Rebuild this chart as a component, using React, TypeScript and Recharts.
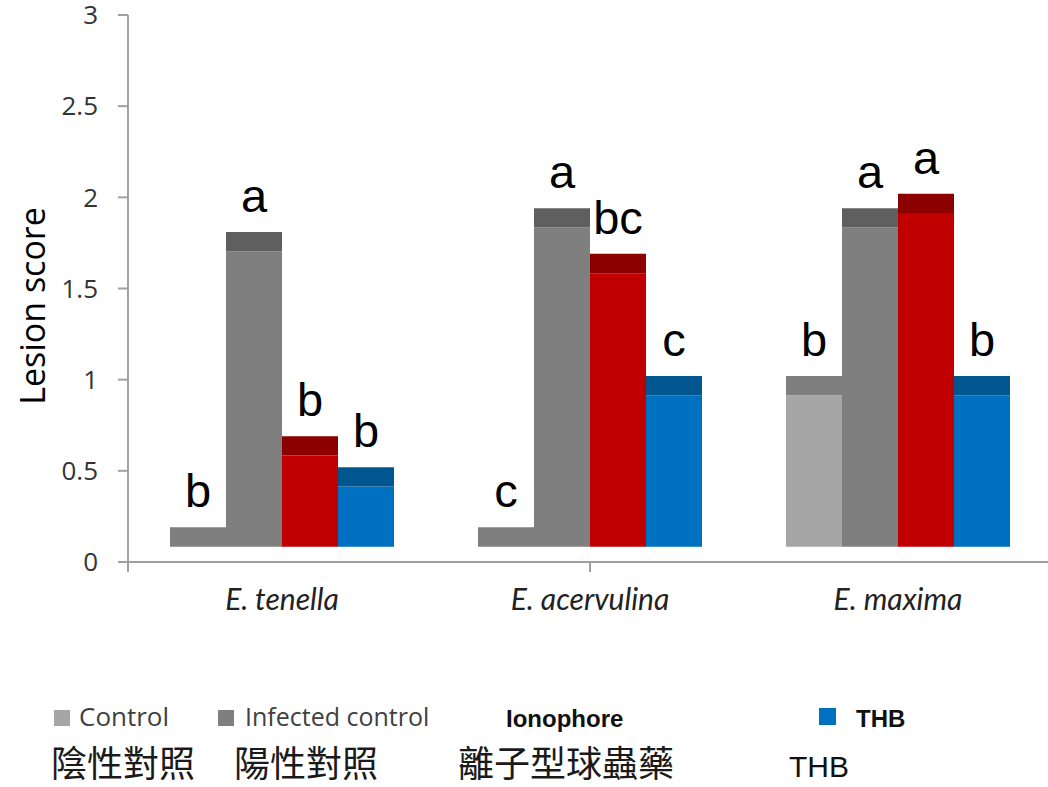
import React from 'react';
import { BarChart, Bar, XAxis, YAxis, LabelList } from 'recharts';

const CATEGORIES = ['E. tenella', 'E. acervulina', 'E. maxima'];
const CONTROL = [0, 0, 0.83];
const INFECTED = [1.62, 1.75, 1.75];
const IONOPHORE = [0.5, 1.5, 1.83];
const THB = [0.33, 0.83, 0.83];

// significance letters above each column
const CONTROL_SIG = ['b', 'c', 'b'];
const INFECTED_SIG = ['a', 'a', 'a'];
const IONOPHORE_SIG = ['b', 'bc', 'a'];
const THB_SIG = ['b', 'c', 'b'];

const Y_TICKS = [0, 0.5, 1, 1.5, 2, 2.5, 3];
const GROUP_TICKS = [0, 1, 2, 3];

// the excel 3D look: columns float a bit above the floor and have a darker top face
const FLOOR = 0.084;
const TOP_FACE = 0.106;

const SERIES = [
  { key: 'control', label: 'Control', zh: '陰性對照', values: CONTROL, sig: CONTROL_SIG, face: '#a6a6a6', top: '#7f7f7f' },
  { key: 'infected', label: 'Infected control', zh: '陽性對照', values: INFECTED, sig: INFECTED_SIG, face: '#7f7f7f', top: '#5f5f5f' },
  { key: 'ionophore', label: 'Ionophore', zh: '離子型球蟲藥', values: IONOPHORE, sig: IONOPHORE_SIG, face: '#c00000', top: '#8c0000' },
  { key: 'thb', label: 'THB', zh: 'THB', values: THB, sig: THB_SIG, face: '#0070c0', top: '#00568f' },
];

const data = CATEGORIES.map((name, i) => {
  const row: Record<string, string | number> = { name };
  SERIES.forEach((s) => {
    row[`${s.key}_base`] = FLOOR;
    row[`${s.key}_body`] = s.values[i];
    row[`${s.key}_top`] = TOP_FACE;
    row[`${s.key}_sig`] = s.sig[i];
  });
  return row;
});

const AXIS = '#a0a0a0';

const renderSig = (props: any) => {
  const { x, y, width, value } = props;
  return (
    <text
      x={Number(x) + Number(width) / 2}
      y={Number(y) - 20}
      textAnchor="middle"
      fill="#000"
      fontSize={47}
      fontFamily="'Liberation Sans Narrow', 'Liberation Sans', sans-serif"
    >
      {value}
    </text>
  );
};

const Legend2 = () => (
  <svg width={1048} height={787} style={{ position: 'absolute', left: 0, top: 0, pointerEvents: 'none' }}>
    <rect x={54} y={710} width={16} height={16} fill="#a6a6a6" />
    <text x={79} y={726} fontSize={26} fontFamily="'Open Sans', sans-serif" fill="#404040">Control</text>
    <rect x={218} y={710} width={16} height={16} fill="#7f7f7f" />
    <text x={245} y={726} fontSize={25} fontFamily="'Open Sans', sans-serif" fill="#404040">Infected control</text>
    <text x={506} y={727} fontSize={24} fontWeight="bold" fontFamily="'Liberation Sans', sans-serif" fill="#111">Ionophore</text>
    <rect x={819} y={708} width={17} height={17} fill="#0070c0" />
    <text x={856} y={727} fontSize={24} fontWeight="bold" fontFamily="'Liberation Sans', sans-serif" fill="#111">THB</text>

    <text x={51} y={777} fontSize={36} fontFamily="'Noto Sans CJK TC', sans-serif" fill="#1a1a1a">{SERIES[0].zh}</text>
    <text x={234} y={777} fontSize={36} fontFamily="'Noto Sans CJK TC', sans-serif" fill="#1a1a1a">{SERIES[1].zh}</text>
    <text x={458} y={777} fontSize={36} fontFamily="'Noto Sans CJK TC', sans-serif" fill="#1a1a1a">{SERIES[2].zh}</text>
    <text x={789} y={777} fontSize={30} fontFamily="'Liberation Sans', sans-serif" fill="#111">{SERIES[3].zh}</text>
  </svg>
);

export default function App() {
  return (
    <div style={{ position: 'absolute', left: 0, top: 0, width: 1048, height: 787, overflow: 'hidden', background: '#fff' }}>
      <BarChart
        width={1060}
        height={787}
        data={data}
        margin={{ top: 15, right: 8, left: 0, bottom: 164 }}
        barCategoryGap={42}
        barGap={0}
      >
        <XAxis
          xAxisId={0}
          type="number"
          domain={[0, 3]}
          ticks={GROUP_TICKS}
          allowDataOverflow
          height={1}
          tickSize={10}
          axisLine={{ stroke: AXIS, strokeWidth: 2 }}
          tickLine={{ stroke: AXIS, strokeWidth: 2 }}
          tickFormatter={() => ''}
        />
        <XAxis
          xAxisId={1}
          dataKey="name"
          height={60}
          axisLine={false}
          tickLine={false}
          tickSize={0}
          tickMargin={26}
          interval={0}
          tick={{ fill: '#222', fontSize: 30, fontFamily: 'Lato, sans-serif', fontStyle: 'italic' }}
        />
        <YAxis
          type="number"
          domain={[0, 3]}
          ticks={Y_TICKS}
          width={128}
          tickSize={10}
          tickMargin={20}
          axisLine={{ stroke: AXIS, strokeWidth: 2 }}
          tickLine={{ stroke: AXIS, strokeWidth: 2 }}
          tick={{ fill: '#333', fontSize: 26, fontFamily: "'Open Sans', sans-serif" }}
          tickFormatter={(v: number) => String(v)}
          label={{
            content: () => (
              <text
                x={32}
                y={306}
                transform="rotate(-90 32 306)"
                textAnchor="middle"
                dominantBaseline="central"
                fontSize={34}
                fontFamily="'Open Sans', sans-serif"
                fill="#000"
              >
                Lesion score
              </text>
            ),
          }}
        />
        {SERIES.flatMap((s) => [
          <Bar key={`${s.key}_base`} xAxisId={1} dataKey={`${s.key}_base`} stackId={s.key} fill="transparent" isAnimationActive={false} />,
          <Bar key={`${s.key}_body`} xAxisId={1} dataKey={`${s.key}_body`} stackId={s.key} fill={s.face} isAnimationActive={false} />,
          <Bar key={`${s.key}_top`} xAxisId={1} dataKey={`${s.key}_top`} stackId={s.key} fill={s.top} isAnimationActive={false}>
            <LabelList dataKey={`${s.key}_sig`} content={renderSig} />
          </Bar>,
        ])}
      </BarChart>
      <Legend2 />
    </div>
  );
}
